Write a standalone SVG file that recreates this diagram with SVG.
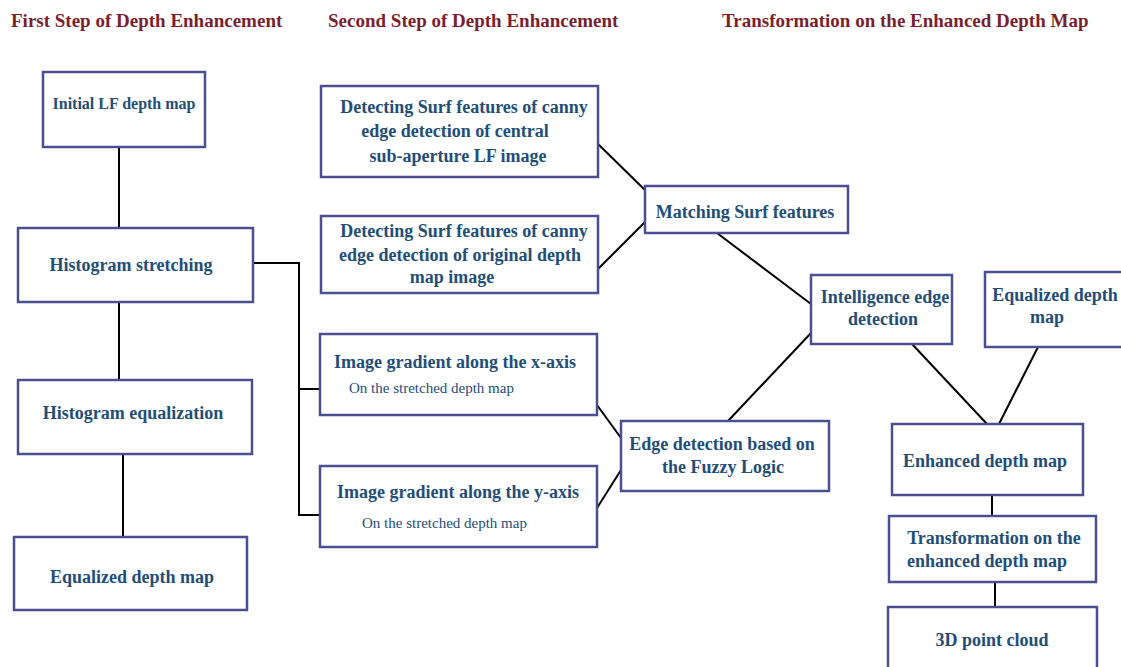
<svg xmlns="http://www.w3.org/2000/svg" width="1121" height="667" viewBox="0 0 1121 667">
<style>
.title{font-family:"Liberation Serif","DejaVu Serif",serif;font-weight:bold;font-size:19px;fill:#7b1f2e}
.box{fill:#ffffff;stroke:#4b4f8f;stroke-width:2.5}
.t{font-family:"Liberation Serif","DejaVu Serif",serif;font-weight:bold;font-size:18px;fill:#1f4e79;text-anchor:middle}
.s{font-family:"Liberation Serif","DejaVu Serif",serif;font-size:15px;fill:#1f4e79}
.c{stroke:#000;stroke-width:2;fill:none}
</style>
<rect width="1121" height="667" fill="#ffffff"/>
<g id="titles">
<text class="title" x="11" y="27">First Step of Depth Enhancement</text>
<text class="title" x="328" y="27">Second Step of Depth Enhancement</text>
<text class="title" x="722" y="27">Transformation on the Enhanced Depth Map</text>
</g>
<g id="connectors">
<line class="c" x1="119" y1="147" x2="119" y2="228"/>
<line class="c" x1="119" y1="302" x2="119" y2="380"/>
<line class="c" x1="123" y1="454" x2="123" y2="537"/>
<polyline class="c" points="254,263 299,263 299,515 320,515"/>
<line class="c" x1="299" y1="389" x2="320" y2="389"/>
<line class="c" x1="598" y1="144" x2="645" y2="190"/>
<line class="c" x1="598" y1="269" x2="645" y2="222"/>
<line class="c" x1="717" y1="233" x2="811" y2="304"/>
<line class="c" x1="597" y1="405" x2="621" y2="438"/>
<line class="c" x1="597" y1="508" x2="621" y2="470"/>
<line class="c" x1="728" y1="421" x2="811" y2="333"/>
<line class="c" x1="912" y1="344" x2="987" y2="424"/>
<line class="c" x1="1038" y1="347" x2="999" y2="424"/>
<line class="c" x1="992" y1="495" x2="992" y2="516"/>
<line class="c" x1="995" y1="582" x2="995" y2="607"/>
</g>
<g id="initial"><rect class="box" x="43" y="72" width="162" height="75"/><text class="t" x="124" y="109" style="font-size:16px">Initial LF depth map</text></g>
<g id="stretching"><rect class="box" x="18" y="228" width="235" height="74"/><text class="t" x="131" y="271">Histogram stretching</text></g>
<g id="equalization"><rect class="box" x="18" y="380" width="234" height="74"/><text class="t" x="133" y="419">Histogram equalization</text></g>
<g id="equalized-left"><rect class="box" x="14" y="537" width="233" height="73"/><text class="t" x="132" y="583">Equalized depth map</text></g>
<g id="surf-central"><rect class="box" x="321" y="86" width="277" height="91"/>
<text class="t" x="464" y="113">Detecting Surf features of canny</text>
<text class="t" x="455" y="137">edge detection of central</text>
<text class="t" x="458" y="162">sub-aperture LF image</text></g>
<g id="surf-depth"><rect class="box" x="321" y="216" width="277" height="77"/>
<text class="t" x="464" y="237">Detecting Surf features of canny</text>
<text class="t" x="460" y="261">edge detection of original depth</text>
<text class="t" x="452" y="283">map image</text></g>
<g id="grad-x"><rect class="box" x="320" y="334" width="277" height="81"/>
<text class="t" x="455" y="368">Image gradient along the x-axis</text>
<text class="s" x="349" y="393">On the stretched depth map</text></g>
<g id="grad-y"><rect class="box" x="320" y="466" width="277" height="81"/>
<text class="t" x="458" y="498">Image gradient along the y-axis</text>
<text class="s" x="362" y="528">On the stretched depth map</text></g>
<g id="matching"><rect class="box" x="645" y="186" width="203" height="47"/><text class="t" x="745" y="218">Matching Surf features</text></g>
<g id="fuzzy"><rect class="box" x="621" y="421" width="208" height="70"/>
<text class="t" x="722" y="450">Edge detection based on</text>
<text class="t" x="723" y="473">the Fuzzy Logic</text></g>
<g id="intelligence"><rect class="box" x="811" y="275" width="141" height="69"/>
<text class="t" x="885" y="303">Intelligence edge</text>
<text class="t" x="883" y="325">detection</text></g>
<g id="equalized-right"><rect class="box" x="985" y="272" width="145" height="75"/>
<text class="t" x="1055" y="301">Equalized depth</text>
<text class="t" x="1047" y="323">map</text></g>
<g id="enhanced"><rect class="box" x="892" y="424" width="191" height="71"/><text class="t" x="985" y="467">Enhanced depth map</text></g>
<g id="transformation"><rect class="box" x="889" y="516" width="207" height="66"/>
<text class="t" x="994" y="544">Transformation on the</text>
<text class="t" x="987" y="567">enhanced depth map</text></g>
<g id="pointcloud"><rect class="box" x="888" y="607" width="209" height="70"/><text class="t" x="992" y="646">3D point cloud</text></g>
</svg>
